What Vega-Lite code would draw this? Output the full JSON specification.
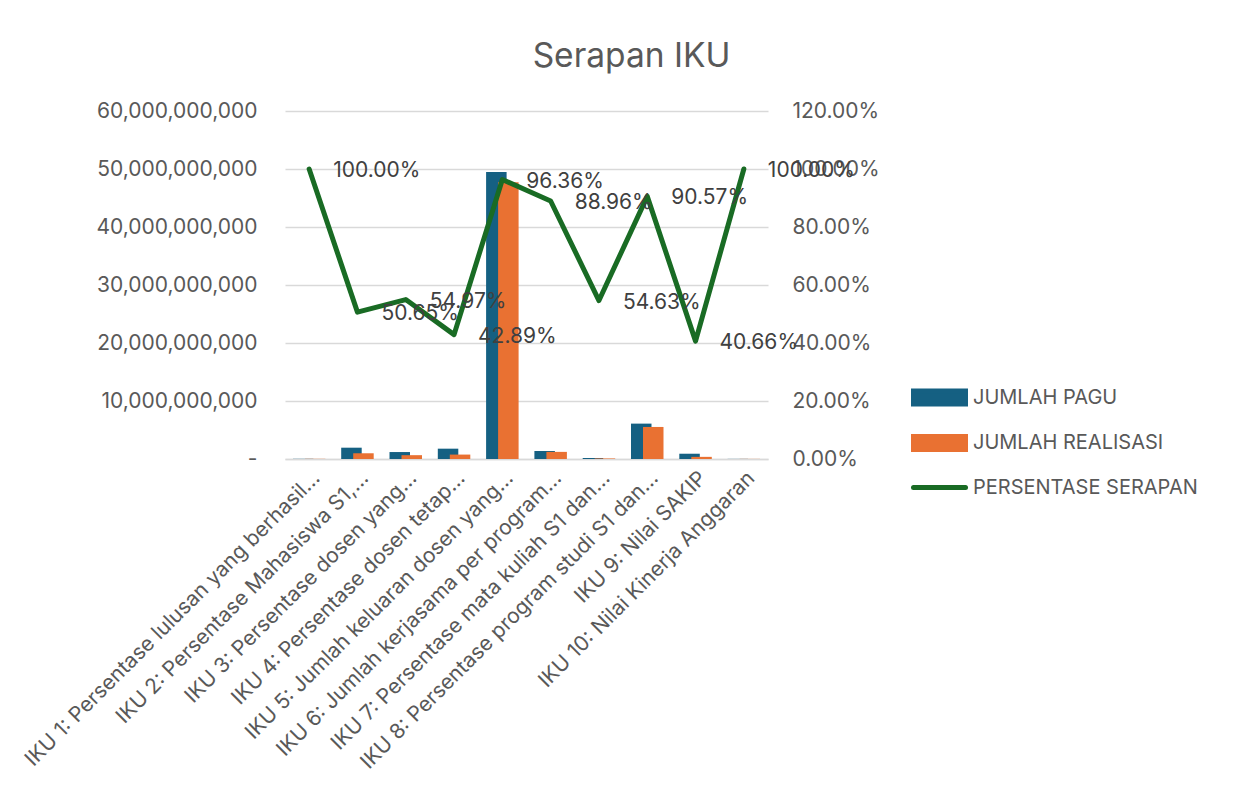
{
  "$schema": "https://vega.github.io/schema/vega-lite/v6.json",
  "width": 483,
  "height": 348,
  "autosize": "none",
  "padding": {"left": 285, "top": 111, "right": 469, "bottom": 337},
  "background": "white",
  "config": {
    "font": "Inter",
    "view": {"stroke": null}
  },
  "title": {
    "text": "Serapan IKU",
    "frame": "group",
    "anchor": "middle",
    "dx": 105,
    "baseline": "alphabetic",
    "offset": 0,
    "fontSize": 33.5,
    "fontWeight": "normal",
    "color": "#595959"
  },
  "data": {
    "values": [
      {"kategori": "IKU 1: Persentase lulusan yang berhasil…", "pagu": 30000000, "realisasi": 30000000, "persen": 1.0},
      {"kategori": "IKU 2: Persentase Mahasiswa S1,…", "pagu": 1950000000, "realisasi": 988000000, "persen": 0.5065},
      {"kategori": "IKU 3: Persentase dosen yang…", "pagu": 1200000000, "realisasi": 660000000, "persen": 0.5497},
      {"kategori": "IKU 4: Persentase dosen tetap…", "pagu": 1780000000, "realisasi": 763000000, "persen": 0.4289},
      {"kategori": "IKU 5: Jumlah keluaran dosen yang…", "pagu": 49500000000, "realisasi": 47700000000, "persen": 0.9636},
      {"kategori": "IKU 6: Jumlah kerjasama per program…", "pagu": 1380000000, "realisasi": 1228000000, "persen": 0.8896},
      {"kategori": "IKU 7: Persentase mata kuliah S1 dan…", "pagu": 170000000, "realisasi": 93000000, "persen": 0.5463},
      {"kategori": "IKU 8: Persentase program studi S1 dan…", "pagu": 6100000000, "realisasi": 5525000000, "persen": 0.9057},
      {"kategori": "IKU 9: Nilai SAKIP", "pagu": 910000000, "realisasi": 370000000, "persen": 0.4066},
      {"kategori": "IKU 10: Nilai Kinerja Anggaran", "pagu": 20000000, "realisasi": 20000000, "persen": 1.0}
    ]
  },
  "encoding": {
    "x": {
      "field": "kategori",
      "type": "nominal",
      "sort": null,
      "scale": {"paddingInner": 0, "paddingOuter": 0},
      "axis": {
        "title": null,
        "labelAngle": -45,
        "labelFontSize": 21,
        "labelColor": "#595959",
        "labelLimit": 0,
        "ticks": false,
        "tickSize": 0,
        "labelPadding": 8,
        "domain": true,
        "domainColor": "#D9D9D9",
        "domainWidth": 1.5
      }
    }
  },
  "layer": [
    {
      "layer": [
        {
          "mark": {"type": "bar", "width": 20.5, "xOffset": -6},
          "encoding": {
            "y": {
              "field": "pagu",
              "type": "quantitative",
              "scale": {"domain": [0, 60000000000], "nice": false},
              "axis": {
                "title": null,
                "orient": "left",
                "values": [0, 10000000000, 20000000000, 30000000000, 40000000000, 50000000000, 60000000000],
                "labelExpr": "datum.value == 0 ? '-' : format(datum.value, ',')",
                "grid": true,
                "gridColor": "#D9D9D9",
                "gridWidth": 1.5,
                "domain": false,
                "ticks": false,
                "tickSize": 0,
                "labelPadding": 28,
                "labelFontSize": 21,
                "labelColor": "#595959"
              }
            },
            "color": {
              "datum": "JUMLAH PAGU",
              "scale": {
                "domain": ["JUMLAH PAGU", "JUMLAH REALISASI", "PERSENTASE SERAPAN"],
                "range": ["#156082", "#E97132", "#196B24"]
              },
              "legend": {
                "title": null,
                "orient": "none",
                "legendX": 639,
                "legendY": 271,
                "direction": "vertical",
                "padding": 0,
                "symbolSize": 676,
                "symbolType": "M-2,-0.5H2V0.5H-2Z",
                "labelFontSize": 20,
                "labelColor": "#595959",
                "labelOffset": 18,
                "rowPadding": 12.5,
                "labelLimit": 0,
                "encode": {
                  "symbols": {
                    "update": {
                      "shape": {"signal": "datum.value === 'PERSENTASE SERAPAN' ? 'M-2,0H2' : 'M-2,-0.5H2V0.5H-2Z'"},
                      "fill": {"signal": "datum.value === 'PERSENTASE SERAPAN' ? 'transparent' : (datum.value === 'JUMLAH PAGU' ? '#156082' : '#E97132')"},
                      "stroke": {"signal": "datum.value === 'PERSENTASE SERAPAN' ? '#196B24' : 'transparent'"},
                      "strokeWidth": {"value": 5},
                      "strokeCap": {"value": "round"},
                      "opacity": {"value": 1}
                    }
                  }
                }
              }
            }
          }
        },
        {
          "mark": {"type": "bar", "width": 20.5, "xOffset": 6},
          "encoding": {
            "y": {
              "field": "realisasi",
              "type": "quantitative",
              "scale": {"domain": [0, 60000000000], "nice": false},
              "axis": {
                "title": null,
                "orient": "left",
                "values": [0, 10000000000, 20000000000, 30000000000, 40000000000, 50000000000, 60000000000],
                "labelExpr": "datum.value == 0 ? '-' : format(datum.value, ',')",
                "grid": true,
                "gridColor": "#D9D9D9",
                "gridWidth": 1.5,
                "domain": false,
                "ticks": false,
                "tickSize": 0,
                "labelPadding": 28,
                "labelFontSize": 21,
                "labelColor": "#595959"
              }
            },
            "color": {"datum": "JUMLAH REALISASI"}
          }
        }
      ]
    },
    {
      "layer": [
        {
          "mark": {"type": "line", "strokeWidth": 5, "strokeCap": "round", "strokeJoin": "round"},
          "encoding": {
            "y": {
              "field": "persen",
              "type": "quantitative",
              "scale": {"domain": [0, 1.2], "nice": false},
              "axis": {
                "title": null,
                "orient": "right",
                "values": [0, 0.2, 0.4, 0.6, 0.8, 1.0, 1.2],
                "format": ".2%",
                "grid": false,
                "domain": false,
                "ticks": false,
                "tickSize": 0,
                "labelPadding": 24,
                "labelFontSize": 21,
                "labelColor": "#595959"
              }
            },
            "color": {"datum": "PERSENTASE SERAPAN"}
          }
        },
        {
          "mark": {"type": "text", "align": "left", "baseline": "middle", "dx": 24, "dy": 2, "fontSize": 21, "color": "#404040"},
          "encoding": {
            "y": {"field": "persen", "type": "quantitative"},
            "text": {"field": "persen", "type": "quantitative", "format": ".2%"}
          }
        }
      ]
    }
  ],
  "resolve": {"scale": {"y": "independent"}}
}
